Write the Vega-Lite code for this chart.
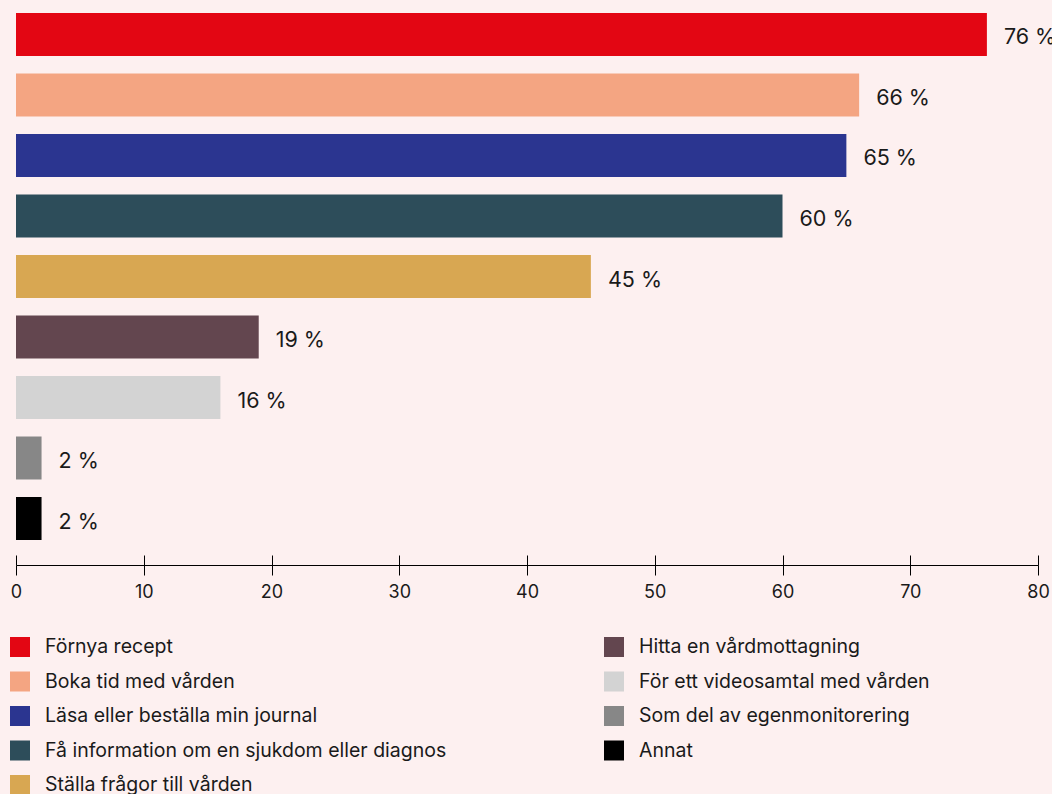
{
  "$schema": "https://vega.github.io/schema/vega-lite/v6.json",
  "autosize": "none",
  "width": 1022,
  "height": 551,
  "padding": {"left": 16, "right": 14, "top": 1, "bottom": 242},
  "background": "#fdf0f0",
  "config": {
    "view": {"stroke": null},
    "font": "Inter",
    "text": {"font": "Inter"}
  },
  "data": {
    "values": [
      {"category": "Förnya recept", "value": 76},
      {"category": "Boka tid med vården", "value": 66},
      {"category": "Läsa eller beställa min journal", "value": 65},
      {"category": "Få information om en sjukdom eller diagnos", "value": 60},
      {"category": "Ställa frågor till vården", "value": 45},
      {"category": "Hitta en vårdmottagning", "value": 19},
      {"category": "För ett videosamtal med vården", "value": 16},
      {"category": "Som del av egenmonitorering", "value": 2},
      {"category": "Annat", "value": 2}
    ]
  },
  "transform": [{"calculate": "datum.value + ' %'", "as": "label"}],
  "encoding": {
    "y": {
      "field": "category",
      "type": "nominal",
      "sort": null,
      "axis": null,
      "scale": {"paddingInner": 0.289, "paddingOuter": 0.198}
    }
  },
  "layer": [
    {
      "mark": {"type": "bar"},
      "encoding": {
        "x": {
          "field": "value",
          "type": "quantitative",
          "scale": {"domain": [0, 80], "nice": false},
          "axis": {
            "values": [0, 10, 20, 30, 40, 50, 60, 70, 80],
            "title": null,
            "grid": false,
            "offset": 13,
            "tickSize": 10,
            "tickColor": "#000000",
            "domainColor": "#000000",
            "labelColor": "#1a1a1a",
            "labelFontSize": 18,
            "labelFont": "Inter",
            "labelPadding": 8,
            "labelFlush": false
          }
        },
        "color": {
          "field": "category",
          "type": "nominal",
          "scale": {
            "domain": ["Förnya recept", "Boka tid med vården", "Läsa eller beställa min journal", "Få information om en sjukdom eller diagnos", "Ställa frågor till vården", "Hitta en vårdmottagning", "För ett videosamtal med vården", "Som del av egenmonitorering", "Annat"],
            "range": ["#e30613", "#f4a582", "#2b3590", "#2d4d5a", "#d8a752", "#63464f", "#d3d3d3", "#878787", "#000000"]
          },
          "legend": {
            "orient": "none",
            "legendX": -6,
            "legendY": 636,
            "title": null,
            "columns": 2,
            "columnPadding": 157,
            "rowPadding": 14.5,
            "symbolType": "square",
            "symbolSize": 400,
            "symbolStrokeWidth": 0,
            "symbolOpacity": 1,
            "labelFontSize": 19.5,
            "labelFont": "Inter",
            "labelColor": "#1a1a1a",
            "labelOffset": 15,
            "labelLimit": 600
          }
        }
      }
    },
    {
      "mark": {"type": "text", "align": "left", "baseline": "middle", "dx": 17, "dy": 4, "fontSize": 21.5, "font": "Inter", "color": "#1a1a1a"},
      "encoding": {
        "x": {"field": "value", "type": "quantitative", "axis": null},
        "text": {"field": "label"}
      }
    },
    {
      "mark": {"type": "tick", "opacity": 0},
      "encoding": {
        "x": {
          "field": "value",
          "type": "quantitative",
          "axis": {
            "orient": "bottom",
            "values": [0, 10, 20, 30, 40, 50, 60, 70, 80],
            "title": null,
            "grid": false,
            "offset": 13,
            "tickSize": -10,
            "tickColor": "#000000",
            "domain": false,
            "labels": false
          }
        }
      }
    }
  ],
  "resolve": {"axis": {"x": "independent"}}
}
